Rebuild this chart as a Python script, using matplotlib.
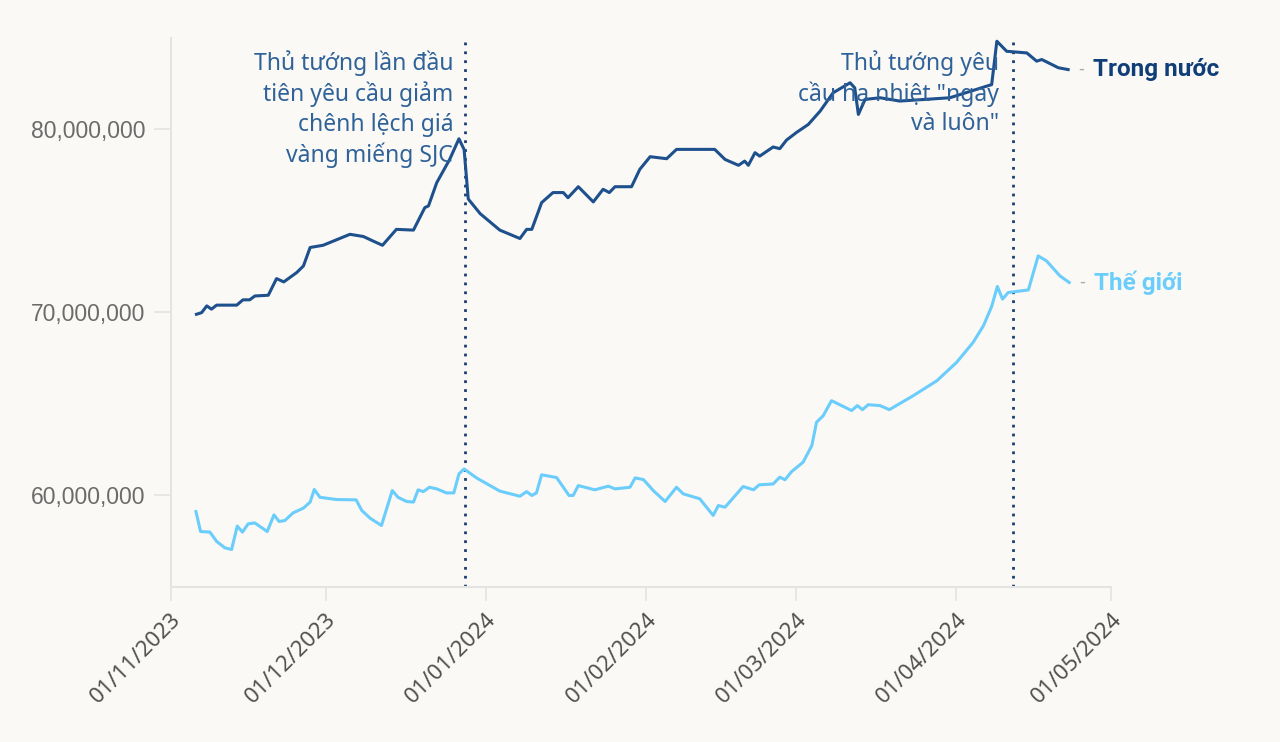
import numpy as np
import pandas as pd
import matplotlib

matplotlib.use("Agg")
import matplotlib.pyplot as plt
import matplotlib.dates as mdates
from matplotlib.ticker import FuncFormatter

# days counted from 01/11/2023
domestic_days = [5.0, 6.0, 7.0, 7.9, 8.9, 12.8, 14.0, 15.3, 16.3, 18.9, 20.5, 21.9, 24.4, 25.7, 27.0,
                 29.5, 31.5, 34.7, 37.3, 39.2, 41.0, 43.7, 47.0, 49.2, 49.9, 51.5, 54.0, 55.8, 56.8,
                 57.6, 59.9, 63.7, 67.6, 68.9, 69.9, 71.8, 74.0, 76.0, 76.9, 78.9, 81.8, 83.7, 84.9,
                 86.0, 89.2, 90.8, 92.8, 96.0, 97.9, 105.3, 107.3, 109.9, 111.1, 111.8, 113.1, 114.0,
                 116.6, 117.9, 119.2, 121.2, 123.4, 125.7, 128.2, 131.5, 132.4, 133.1, 134.4, 137.3,
                 141.1, 150.8, 158.9, 159.9, 161.8, 165.7, 167.6, 168.6, 171.8, 173.7]
domestic = [69.9, 69.99, 70.36, 70.18, 70.4, 70.4, 70.69, 70.69, 70.9, 70.94, 71.85, 71.67, 72.18, 72.54,
            73.55, 73.67, 73.9, 74.27, 74.15, 73.9, 73.67, 74.54, 74.5, 75.73, 75.82, 77.09, 78.36,
            79.49, 78.9, 76.2, 75.4, 74.5, 74.04, 74.54, 74.54, 76.0, 76.55, 76.55, 76.27, 76.87,
            76.04, 76.73, 76.55, 76.87, 76.87, 77.82, 78.51, 78.4, 78.91, 78.91, 78.36, 78.04, 78.27,
            78.04, 78.73, 78.54, 79.04, 78.95, 79.42, 79.85, 80.27, 81.0, 82.0, 82.55, 82.27, 80.82,
            81.64, 81.73, 81.55, 81.73, 82.45, 84.82, 84.27, 84.18, 83.73, 83.82, 83.37, 83.27]

world_days = [4.9, 5.8, 7.6, 8.9, 10.5, 11.8, 12.9, 13.9, 15.0, 16.3, 18.7, 20.0, 21.0, 22.1, 23.7, 25.7,
              27.0, 27.8, 28.9, 32.1, 35.9, 37.0, 38.6, 40.8, 42.9, 44.0, 45.7, 47.0, 47.9, 48.9, 50.1,
              51.5, 53.4, 54.8, 55.8, 56.8, 59.2, 63.7, 67.6, 68.9, 69.9, 70.8, 71.8, 74.7, 77.1, 77.9,
              78.9, 82.1, 84.7, 86.0, 88.9, 89.9, 91.5, 93.4, 95.7, 97.9, 99.2, 102.4, 105.0, 106.0,
              107.3, 110.8, 112.8, 113.9, 116.6, 117.9, 118.9, 120.2, 122.4, 124.1, 125.0, 126.3,
              127.9, 131.8, 132.9, 133.9, 135.0, 137.3, 139.1, 143.7, 148.3, 152.1, 155.3, 157.3,
              158.9, 160.0, 161.0, 162.1, 166.0, 167.9, 169.5, 172.1, 173.9]
world = [59.12, 58.03, 58.0, 57.49, 57.14, 57.05, 58.33, 58.0, 58.45, 58.5, 58.03, 58.94, 58.58, 58.63,
         59.05, 59.31, 59.64, 60.33, 59.9, 59.78, 59.76, 59.18, 58.76, 58.36, 60.27, 59.9, 59.67, 59.64,
         60.31, 60.21, 60.45, 60.36, 60.14, 60.14, 61.18, 61.45, 60.96, 60.24, 59.96, 60.21, 60.0,
         60.14, 61.13, 60.98, 60.0, 60.0, 60.54, 60.31, 60.51, 60.36, 60.45, 60.96, 60.87, 60.27,
         59.67, 60.45, 60.09, 59.82, 58.91, 59.45, 59.36, 60.49, 60.31, 60.58, 60.63, 61.0, 60.86,
         61.31, 61.82, 62.73, 64.0, 64.36, 65.18, 64.64, 64.91, 64.69, 64.96, 64.91, 64.69, 65.45,
         66.27, 67.27, 68.36, 69.27, 70.33, 71.42, 70.73, 71.09, 71.23, 73.09, 72.82, 72.0, 71.64]

event_dates = ["2023-12-28", "2024-04-12"]
event_texts = ["Thủ tướng lần đầu\ntiên yêu cầu giảm\nchênh lệch giá\nvàng miếng SJC",
               "Thủ tướng yêu\ncầu hạ nhiệt \"ngay\nvà luôn\""]
tick_dates = ["2023-11-01", "2023-12-01", "2024-01-01", "2024-02-01", "2024-03-01", "2024-04-01", "2024-05-01"]

start = pd.Timestamp("2023-11-01")
dom_x = start + pd.to_timedelta(domestic_days, unit="D")
wld_x = start + pd.to_timedelta(world_days, unit="D")
dom_y = np.array(domestic) * 1e6
wld_y = np.array(world) * 1e6

bg = "#faf9f5"
dark = "#1d508c"
light = "#6acdfb"
axis_grey = "#e4e4e4"

plt.rcParams["font.family"] = ["Noto Sans", "DejaVu Sans"]
fig = plt.figure(figsize=(12.8, 7.42), dpi=100, facecolor=bg)
ax = fig.add_axes([0.1333, 0.2089, 0.7347, 0.74], facecolor=bg)

ax.plot(dom_x, dom_y, color=dark, lw=2.2, solid_joinstyle="round")
ax.plot(wld_x, wld_y, color=light, lw=2.2, solid_joinstyle="round")

for d in event_dates:
    ax.axvline(pd.Timestamp(d), color="#1b3f70", lw=2.0, ls=(0, (1, 2.2)), zorder=1)

for d, txt, dx in zip(event_dates, event_texts, [-12, -14]):
    ax.annotate(txt, xy=(pd.Timestamp(d), 85e6), xytext=(dx, -12),
                textcoords="offset pixels", ha="right", va="top", fontsize=16.5,
                color="#2f6299", linespacing=1.3)

bold_font = ["Roboto", "Open Sans", "DejaVu Sans"]
for x, y, name, col in [(dom_x[-1], dom_y[-1], "Trong nước", "#0f3e78"),
                        (wld_x[-1], wld_y[-1], "Thế giới", light)]:
    ax.annotate("-", xy=(x, y), xytext=(10, 0), textcoords="offset pixels",
                ha="left", va="center", fontsize=13, color="#aaaaaa")
    ax.annotate(name, xy=(x, y), xytext=(25, 0), textcoords="offset pixels",
                ha="left", va="center", fontsize=17.5, fontweight="bold", color=col,
                family=bold_font)

ax.set_xlim(pd.Timestamp("2023-11-01"), pd.Timestamp("2024-05-01"))
ax.set_ylim(55e6, 85e6)
ax.set_yticks([60e6, 70e6, 80e6])
ax.yaxis.set_major_formatter(FuncFormatter(lambda v, _: f"{v:,.0f}"))
ax.set_xticks(pd.to_datetime(tick_dates))
ax.xaxis.set_major_formatter(mdates.DateFormatter("%d/%m/%Y"))

for lab in ax.get_yticklabels():
    lab.set_fontfamily("Liberation Sans")
    lab.set_fontsize(16.5)
    lab.set_color("#6b6b6b")
for lab in ax.get_xticklabels():
    lab.set_rotation(45)
    lab.set_ha("right")
    lab.set_rotation_mode("anchor")
    lab.set_fontsize(16)
    lab.set_color("#505050")

ax.tick_params(axis="y", length=12, width=1.2, color=axis_grey, pad=6)
ax.tick_params(axis="x", length=10, width=1.2, color=axis_grey, pad=6)
for side in ["top", "right"]:
    ax.spines[side].set_visible(False)
for side in ["left", "bottom"]:
    ax.spines[side].set_color(axis_grey)
    ax.spines[side].set_linewidth(1.5)

fig.savefig("out.png", dpi=100, facecolor=bg)
